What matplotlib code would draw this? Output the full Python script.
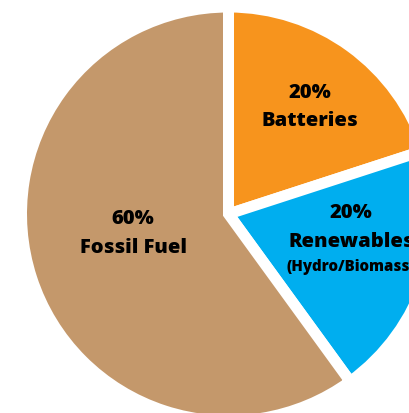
import matplotlib.pyplot as plt

# energy mix shares, clockwise from the top
categories = ['Batteries', 'Renewables', 'Fossil Fuel']
shares = [20, 20, 60]
sub_labels = ['', '(Hydro/Biomass)', '']
colors = ['#F7941D', '#00AEEF', '#C4986B']

# label centres in figure pixels (percent line, name line, sub line)
label_pos = [(310, 93, 121, None), (351, 213, 242, 267), (133, 219, 248, None)]

W, H = 410, 414
fig = plt.figure(figsize=(W / 100, H / 100), dpi=100)
ax = fig.add_axes([0, 0, 1, 1])

# gaps between slices come from a thick white edge
gap_px = 11
ax.pie(shares, colors=colors, startangle=90, counterclock=False, radius=1.0,
       wedgeprops=dict(linewidth=gap_px * 72 / 100, edgecolor='white',
                       joinstyle='miter'))

# pie centre / radius in pixels; it runs off the right and bottom edges
cx, cy, r = 228.5, 215.0, 207.0
ax.set_aspect('auto')
ax.set_xlim(-cx / r, (W - cx) / r)
ax.set_ylim((cy - H) / r, cy / r)
ax.axis('off')

font = 'Open Sans'
for cat, val, sub, (px, py1, py2, py3) in zip(categories, shares, sub_labels, label_pos):
    fig.text(px / W, 1 - py1 / H, f'{val}%', ha='center', va='center',
             fontsize=14.5, fontweight='heavy', family=font)
    fig.text(px / W, 1 - py2 / H, cat, ha='center', va='center',
             fontsize=14.5, fontweight='heavy', family=font)
    if sub:
        fig.text(px / W, 1 - py3 / H, sub, ha='center', va='center',
                 fontsize=10.8, fontweight='heavy', family=font)

fig.savefig('out.png', dpi=100)
